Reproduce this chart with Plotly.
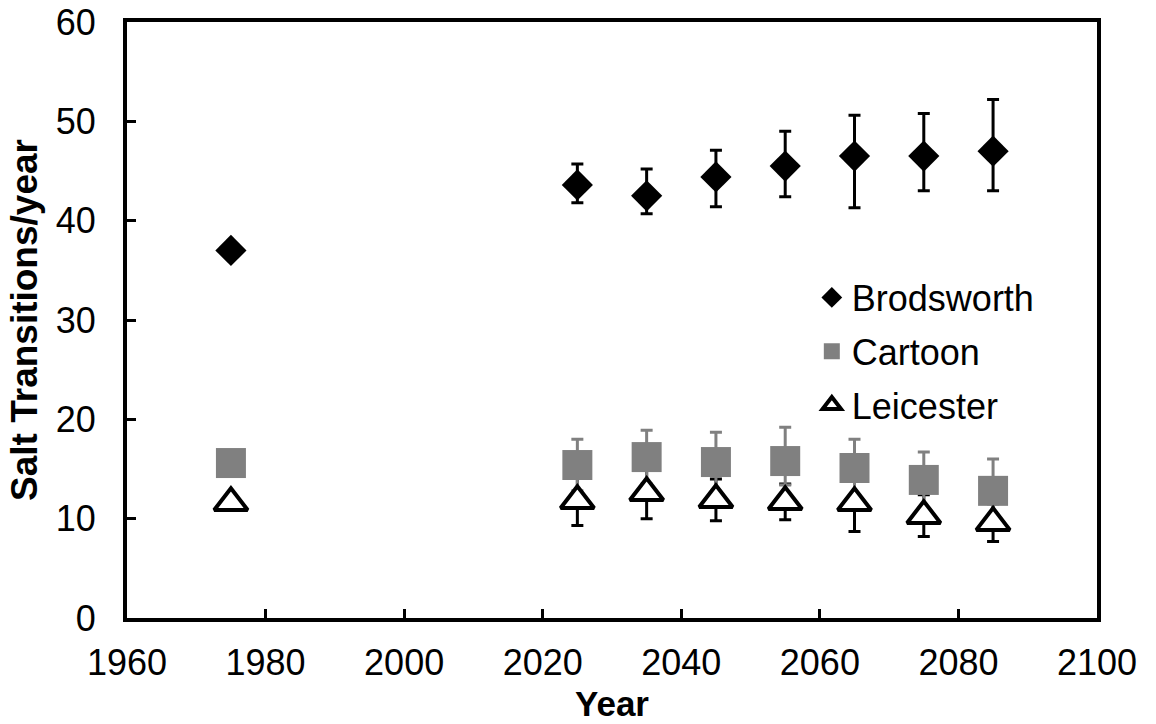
import plotly.graph_objects as go

years = [1975, 2025, 2035, 2045, 2055, 2065, 2075, 2085]

brod = [37.0, 43.6, 42.5, 44.4, 45.5, 46.5, 46.5, 47.0]
brod_up = [0, 2.1, 2.7, 2.7, 3.5, 4.1, 4.3, 5.2]
brod_dn = [0, 1.8, 1.8, 3.0, 3.1, 5.2, 3.5, 4.0]

cart = [15.6, 15.4, 16.2, 15.7, 15.8, 15.1, 13.9, 12.8]
cart_up = [0, 2.6, 2.7, 3.0, 3.4, 2.9, 2.8, 3.2]
cart_dn = [0, 2.6, 2.7, 3.0, 2.4, 2.9, 2.8, 3.2]

leic = [11.6, 11.8, 12.6, 11.9, 11.7, 11.6, 10.3, 9.6]
leic_up = [0, 2.5, 2.6, 2.1, 1.8, 2.9, 2.1, 1.9]
leic_dn = [0, 2.5, 2.6, 2.1, 1.8, 2.9, 2.1, 1.9]

x_ticks = [1960, 1980, 2000, 2020, 2040, 2060, 2080, 2100]
y_ticks = [0, 10, 20, 30, 40, 50, 60]

FONT = "Arial, Liberation Sans, sans-serif"
GREY = "#808080"

fig = go.Figure()

fig.add_trace(go.Scatter(
    x=years, y=brod, mode="markers", name="Brodsworth", legendgroup="b",
    marker=dict(symbol="diamond", size=24, color="black"),
    error_y=dict(type="data", symmetric=False, array=brod_up, arrayminus=brod_dn,
                 color="black", thickness=3, width=6),
))
fig.add_trace(go.Scatter(
    x=years, y=leic, mode="markers", showlegend=False, legendgroup="l0",
    marker=dict(size=1, opacity=0, color="black"),
    error_y=dict(type="data", symmetric=False, array=leic_up, arrayminus=leic_dn,
                 color="black", thickness=3, width=6),
    hoverinfo="skip",
))
fig.add_trace(go.Scatter(
    x=years, y=cart, mode="markers", name="Cartoon", legendgroup="c",
    marker=dict(symbol="square", size=30, color=GREY),
    error_y=dict(type="data", symmetric=False, array=cart_up, arrayminus=cart_dn,
                 color=GREY, thickness=3, width=6),
))
fig.add_trace(go.Scatter(
    x=years, y=leic, mode="markers", name="Leicester", legendgroup="l",
    marker=dict(symbol="triangle-up", size=29, color="white",
                line=dict(color="black", width=4)),
))

fig.update_layout(
    width=1156, height=724,
    margin=dict(l=127, r=59, t=22, b=106, autoexpand=False),
    paper_bgcolor="white", plot_bgcolor="white",
    font=dict(family=FONT, color="black", size=36),
    showlegend=True,
    legend=dict(x=0.706, y=0.588, xanchor="left", yanchor="top",
                font=dict(size=36, family=FONT), bgcolor="rgba(0,0,0,0)",
                tracegroupgap=4, itemsizing="trace"),
)
fig.update_xaxes(
    range=[1960, 2100], tickvals=x_ticks, ticktext=[str(v) for v in x_ticks],
    showgrid=False, zeroline=False, showline=True, linecolor="black", linewidth=4,
    mirror=True, ticks="inside", ticklen=9, tickwidth=3, tickcolor="black",
    tickfont=dict(size=36, family=FONT), ticklabelstandoff=10,
    ticklabeloverflow="allow",
    title=dict(text="<b>Year</b>", font=dict(size=35, family=FONT), standoff=10),
    automargin=False,
)
fig.update_yaxes(
    range=[0, 60], tickvals=y_ticks, ticktext=[str(v) for v in y_ticks],
    showgrid=False, zeroline=False, showline=True, linecolor="black", linewidth=4,
    mirror=True, ticks="inside", ticklen=9, tickwidth=3, tickcolor="black",
    tickfont=dict(size=36, family=FONT), ticklabelstandoff=20,
    ticklabeloverflow="allow",
    title=dict(text="<b>Salt Transitions/year</b>", font=dict(size=37, family=FONT), standoff=8),
    automargin=False,
)

fig.write_html("out.html", config={"displayModeBar": False},
               post_script="document.body.style.margin='0';")
